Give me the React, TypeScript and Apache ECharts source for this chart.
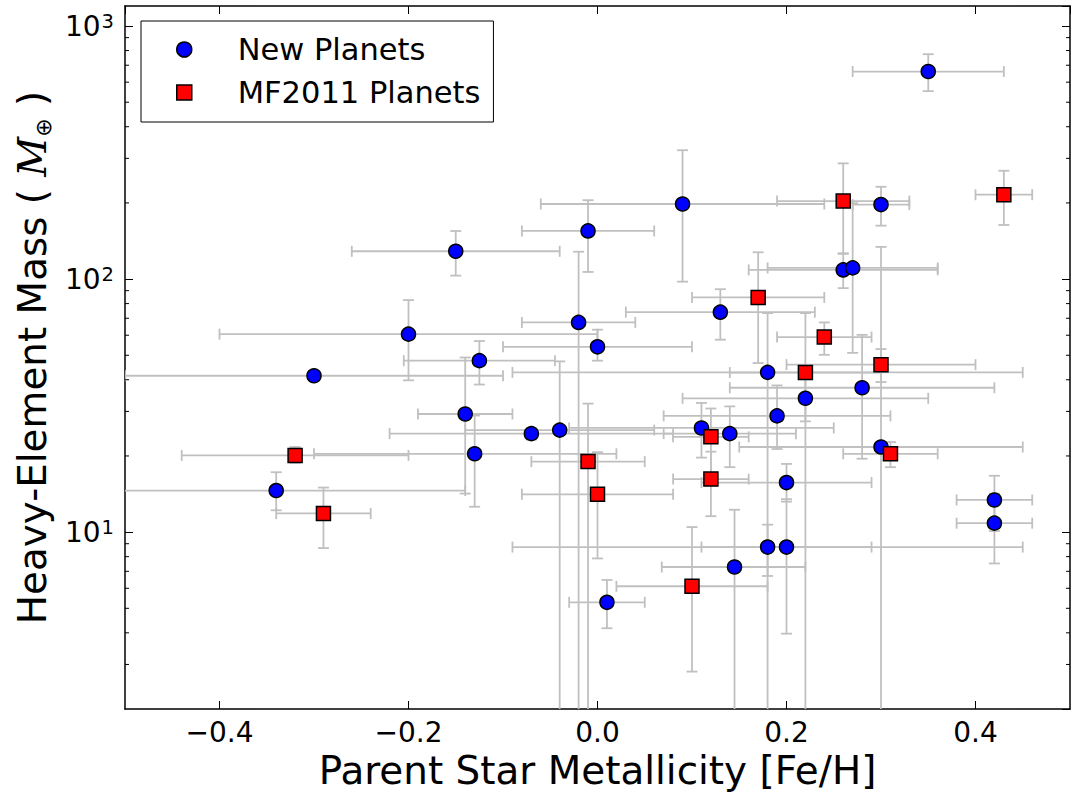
import React, { useEffect, useRef } from 'react';
import * as echarts from 'echarts';

// ---------- data ----------
// New Planets
const newX = [0.35, 0.09, 0.30, -0.01, -0.15, 0.26, 0.27, 0.13, -0.02, -0.20, 0.00, -0.125, -0.30, 0.18, 0.28, 0.22, -0.14, 0.19, 0.11, -0.04, -0.07, 0.14, -0.13, 0.30, -0.34, 0.20, 0.42, 0.42, 0.18, 0.20, 0.145, 0.01];
const newY = [661, 198, 197, 155, 128.8, 108.7, 110.7, 74.0, 67.4, 60.6, 54.0, 47.6, 41.5, 42.8, 37.2, 33.8, 29.3, 28.8, 25.8, 25.3, 24.5, 24.5, 20.4, 21.7, 14.6, 15.7, 13.4, 10.85, 8.73, 8.73, 7.28, 5.28];
const newXLo = [0.27, -0.06, 0.27, -0.08, -0.26, 0.16, 0.18, 0.03, -0.08, -0.40, -0.10, -0.205, -0.50, -0.09, 0.14, 0.09, -0.19, 0.07, -0.03, -0.14, -0.22, 0.07, -0.30, 0.15, -0.54, 0.11, 0.38, 0.38, -0.09, 0.11, 0.068, -0.03];
const newXHi = [0.43, 0.24, 0.33, 0.06, -0.04, 0.36, 0.36, 0.23, 0.04, 0.00, 0.10, -0.045, -0.10, 0.45, 0.42, 0.35, -0.09, 0.31, 0.25, 0.06, 0.08, 0.21, 0.02, 0.45, -0.14, 0.29, 0.46, 0.46, 0.45, 0.29, 0.22, 0.05];
const newYLo = [553, 97.7, 162.6, 106.7, 103.2, 92.1, 51.1, 57.6, 1, 39.8, 47.6, 38.3, 40.0, 1, 19.5, 27.4, 14.2, 21.3, 19.7, 1, 23.2, 18.06, 12.6, 1, 12.2, 13.2, 10.1, 7.52, 6.71, 3.97, 1, 4.17];
const newYHi = [774, 323, 231.6, 205, 154.9, 125.8, 199.4, 91.2, 128.3, 82.6, 63.1, 56.9, 43.0, 73.4, 60.2, 40.2, 49.0, 38.0, 32.4, 47.3, 25.8, 31.4, 28.9, 134, 17.25, 18.6, 16.7, 14.2, 10.7, 13.5, 12.26, 6.47];

// MF2011 Planets
const mfX = [0.43, 0.26, 0.17, 0.24, 0.30, 0.22, 0.12, -0.32, -0.01, 0.31, 0.12, 0.00, -0.29, 0.10];
const mfY = [215.5, 203.4, 84.6, 59.0, 45.9, 42.7, 23.8, 20.1, 19.0, 20.4, 16.2, 14.1, 11.85, 6.11];
const mfXLo = [0.40, 0.19, 0.10, 0.19, 0.20, 0.14, 0.08, -0.44, -0.07, 0.26, 0.08, -0.08, -0.34, 0.02];
const mfXHi = [0.46, 0.33, 0.24, 0.29, 0.40, 0.30, 0.16, -0.20, 0.05, 0.36, 0.16, 0.08, -0.24, 0.18];
const mfYLo = [163.6, 126.5, 46.6, 50.2, 39.2, 1, 16.8, 18.8, 1, 18.06, 11.56, 7.87, 8.65, 2.81];
const mfYHi = [268, 286.6, 127.6, 67.4, 52.9, 73.4, 30.8, 21.7, 32.2, 22.7, 20.8, 20.7, 15.0, 10.47];

// axis ranges and tick values
const X_MIN = -0.5;
const X_MAX = 0.5;
const Y_MIN = 2;
const Y_MAX = 1200;
const yMinorTicks = [3, 4, 5, 6, 7, 8, 9, 20, 30, 40, 50, 60, 70, 80, 90, 200, 300, 400, 500, 600, 700, 800, 900];

const FONT = 'DejaVu Sans';

function rows(x: number[], y: number[], xlo: number[], xhi: number[], ylo: number[], yhi: number[]) {
  return x.map((v, i) => [v, y[i], xlo[i], xhi[i], ylo[i], yhi[i]]);
}

const CAP = 5.5;
const barStyle = { stroke: '#c0c0c0', lineWidth: 1.8, fill: null };

function renderErrorBar(_params: any, api: any) {
  const x = api.value(0);
  const y = api.value(1);
  const c = api.coord([x, y]);
  const l = api.coord([api.value(2), y]);
  const r = api.coord([api.value(3), y]);
  const b = api.coord([x, api.value(4)]);
  const t = api.coord([x, api.value(5)]);
  const ln = (x1: number, y1: number, x2: number, y2: number) => ({
    type: 'line',
    shape: { x1, y1, x2, y2 },
    style: barStyle,
  });
  return {
    type: 'group',
    children: [
      ln(l[0], c[1], r[0], c[1]),
      ln(l[0], c[1] - CAP, l[0], c[1] + CAP),
      ln(r[0], c[1] - CAP, r[0], c[1] + CAP),
      ln(c[0], b[1], c[0], t[1]),
      ln(c[0] - CAP, b[1], c[0] + CAP, b[1]),
      ln(c[0] - CAP, t[1], c[0] + CAP, t[1]),
    ],
  };
}

function renderMinorTick(_params: any, api: any) {
  const v = api.value(1);
  const L = api.coord([X_MIN, v]);
  const R = api.coord([X_MAX, v]);
  const s = { stroke: '#000', lineWidth: 1 };
  return {
    type: 'group',
    children: [
      { type: 'line', shape: { x1: L[0], y1: L[1], x2: L[0] + 4, y2: L[1] }, style: s },
      { type: 'line', shape: { x1: R[0] - 4, y1: R[1], x2: R[0], y2: R[1] }, style: s },
    ],
  };
}

const xLabel = (v: number) => {
  if (Math.abs(v) > 0.45) return '';
  const a = Math.abs(v) < 1e-9 ? 0 : v;
  return (a < 0 ? '\u2212' : '') + Math.abs(a).toFixed(1);
};

const yLabel = (v: number) => {
  const e = Math.round(Math.log10(v));
  if (Math.abs(v - Math.pow(10, e)) > 1e-6 * v) return '';
  return `{b|10}{s|${e}}`;
};

const axisLine = { show: true, onZero: false, lineStyle: { color: '#000', width: 1.5 } };
const majorTick = { show: true, inside: true, length: 8, lineStyle: { color: '#000', width: 1 } };

export default function App() {
  const ref = useRef<HTMLDivElement>(null);

  useEffect(() => {
    if (!ref.current) return;
    const chart = echarts.init(ref.current, undefined, { renderer: 'svg' });
    const option: any = {
      animation: false,
      backgroundColor: '#fff',
      grid: { left: 125, right: 3, top: 6, bottom: 85, containLabel: false, outerBoundsMode: 'none' },
      legend: {
        orient: 'vertical',
        left: 141,
        top: 21,
        padding: [13, 13, 14, 35],
        itemGap: 12,
        itemWidth: 15,
        itemHeight: 15,
        borderColor: '#000',
        borderWidth: 1,
        borderRadius: 0,
        backgroundColor: '#fff',
        selectedMode: false,
        textStyle: { fontFamily: FONT, fontSize: 30.5, color: '#000', lineHeight: 30, padding: [0, 0, 0, 41] },
        data: [
          { name: 'New Planets', icon: 'circle', itemStyle: { color: '#0000ff', borderColor: '#000', borderWidth: 1.5 } },
          { name: 'MF2011 Planets', icon: 'rect', itemStyle: { color: '#ff0000', borderColor: '#000', borderWidth: 1.5 } },
        ],
      },
      xAxis: [
        {
          type: 'value',
          min: X_MIN,
          max: X_MAX,
          splitNumber: 5,
          position: 'bottom',
          axisLine,
          axisTick: majorTick,
          splitLine: { show: false },
          axisLabel: { formatter: xLabel, fontFamily: FONT, fontSize: 28, color: '#000', margin: 9, showMinLabel: false, showMaxLabel: false },
          name: 'Parent Star Metallicity [Fe/H]',
          nameLocation: 'middle',
          nameGap: 31,
          nameTextStyle: { fontFamily: FONT, fontSize: 38.9, color: '#000' },
        },
        {
          type: 'value',
          min: X_MIN,
          max: X_MAX,
          splitNumber: 5,
          position: 'top',
          axisLine,
          axisTick: majorTick,
          splitLine: { show: false },
          axisLabel: { show: false },
        },
      ],
      yAxis: [
        {
          type: 'log',
          logBase: 10,
          min: Y_MIN,
          max: Y_MAX,
          position: 'left',
          axisLine,
          axisTick: majorTick,
          splitLine: { show: false },
          minorTick: { show: false },
          axisLabel: {
            formatter: yLabel,
            margin: 11,
            showMinLabel: false,
            showMaxLabel: false,
            rich: {
              b: { fontFamily: FONT, fontSize: 28, color: '#000', lineHeight: 30 },
              s: { fontFamily: FONT, fontSize: 19.5, color: '#000', lineHeight: 20, verticalAlign: 'top', padding: [0, 0, 0, 1] },
            },
          },
          name: '{n|Heavy-Element Mass ( }{m|M}{sub|\u2295}{n| )}',
          nameLocation: 'middle',
          nameRotate: 90,
          nameGap: 56,
          nameTextStyle: {
            rich: {
              n: { fontFamily: FONT, fontSize: 38.9, color: '#000', lineHeight: 44 },
              m: { fontFamily: 'DejaVu Serif', fontStyle: 'italic', fontSize: 38.9, color: '#000', lineHeight: 44 },
              sub: { fontFamily: FONT, fontSize: 22, color: '#000', lineHeight: 30, verticalAlign: 'bottom' },
            },
          },
        },
        {
          type: 'log',
          logBase: 10,
          min: Y_MIN,
          max: Y_MAX,
          position: 'right',
          axisLine,
          axisTick: majorTick,
          splitLine: { show: false },
          axisLabel: { show: false },
        },
      ],
      series: [
        {
          type: 'custom',
          name: 'newErr',
          renderItem: renderErrorBar,
          data: rows(newX, newY, newXLo, newXHi, newYLo, newYHi),
          encode: { x: 0, y: 1 },
          clip: true,
          silent: true,
          z: 1,
        },
        {
          type: 'custom',
          name: 'mfErr',
          renderItem: renderErrorBar,
          data: rows(mfX, mfY, mfXLo, mfXHi, mfYLo, mfYHi),
          encode: { x: 0, y: 1 },
          clip: true,
          silent: true,
          z: 1,
        },
        {
          type: 'custom',
          name: 'minorTicks',
          renderItem: renderMinorTick,
          data: yMinorTicks.map((v) => [0, v]),
          encode: { x: 0, y: 1 },
          silent: true,
          z: 5,
        },
        {
          type: 'scatter',
          name: 'New Planets',
          symbol: 'circle',
          symbolSize: 14,
          data: newX.map((v, i) => [v, newY[i]]),
          itemStyle: { color: '#0000ff', borderColor: '#000', borderWidth: 1.5, opacity: 1 },
          z: 3,
        },
        {
          type: 'scatter',
          name: 'MF2011 Planets',
          symbol: 'rect',
          symbolSize: 14,
          data: mfX.map((v, i) => [v, mfY[i]]),
          itemStyle: { color: '#ff0000', borderColor: '#000', borderWidth: 1.5, opacity: 1 },
          z: 4,
        },
      ],
    };
    chart.setOption(option);
    return () => chart.dispose();
  }, []);

  return (
    <div
      ref={ref}
      style={{ position: 'fixed', left: 0, top: 0, width: 1073, height: 794, background: '#fff' }}
    />
  );
}
